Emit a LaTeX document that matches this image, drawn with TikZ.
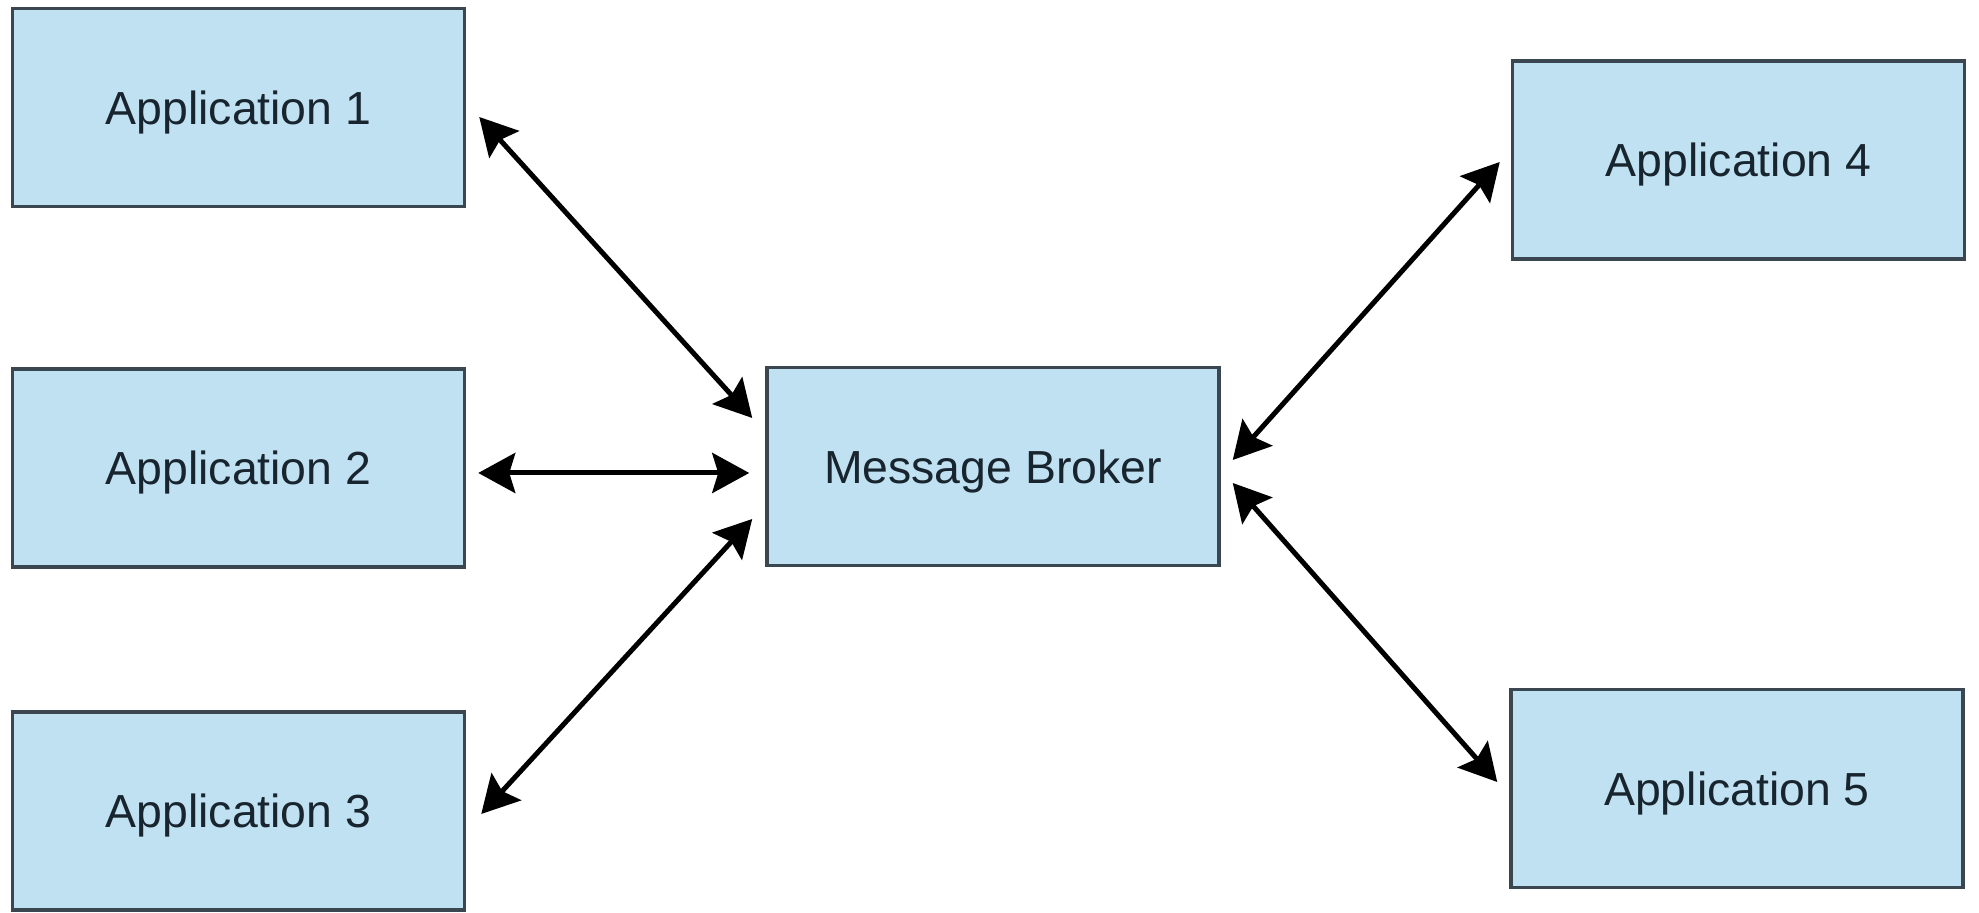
\documentclass[tikz,border=0pt]{standalone}
\usepackage{fontspec}
\setmainfont{Liberation Sans}
\usepackage{tikz}
\usetikzlibrary{positioning, arrows.meta}
\definecolor{boxColor}{RGB}{191,225,241}
\definecolor{borderColor}{RGB}{58,70,80}
\definecolor{textColor}{RGB}{24,36,46}
\tikzstyle{appBox} = [draw=borderColor, fill=boxColor, line width=0.035cm, minimum width=4.52cm, minimum height=1.98cm, inner sep=0pt, text depth=0pt, text=textColor, font=\fontsize{13.2}{16}\selectfont]
\tikzstyle{linkArrow} = [black, line width=0.05cm, {Stealth[length=0.37cm, width=0.4cm, inset=0.06cm]}-{Stealth[length=0.37cm, width=0.4cm, inset=0.06cm]}]
\newcommand{\appNode}[3]{\node [appBox] (#1) at #2 {#3};}

\begin{document}
\begin{tikzpicture}
  \useasboundingbox (0,0) rectangle (19.79,9.13);
  % applications on the left
  \appNode{app1}{(2.385,8.055)}{Application 1}
  \appNode{app2}{(2.385,4.45)}{Application 2}
  \appNode{app3}{(2.385,1.02)}{Application 3}
  % broker in the middle
  \appNode{broker}{(9.93,4.465)}{Message Broker}
  % applications on the right
  \appNode{app4}{(17.385,7.53)}{Application 4}
  \appNode{app5}{(17.37,1.245)}{Application 5}

  \draw [linkArrow] ([xshift=0.13cm, yshift=-0.095cm]app1.east) -- ([xshift=-0.13cm, yshift=0.485cm]broker.west);
  \draw [linkArrow] ([xshift=0.12cm, yshift=-0.05cm]app2.east) -- ([xshift=-0.16cm, yshift=-0.065cm]broker.west);
  \draw [linkArrow] ([xshift=0.15cm, yshift=-0.03cm]app3.east) -- ([xshift=-0.13cm, yshift=-0.525cm]broker.west);
  \draw [linkArrow] ([xshift=0.12cm, yshift=0.065cm]broker.east) -- ([xshift=-0.11cm, yshift=-0.02cm]app4.west);
  \draw [linkArrow] ([xshift=0.12cm, yshift=-0.165cm]broker.east) -- ([xshift=-0.12cm, yshift=0.065cm]app5.west);
\end{tikzpicture}
\end{document}
